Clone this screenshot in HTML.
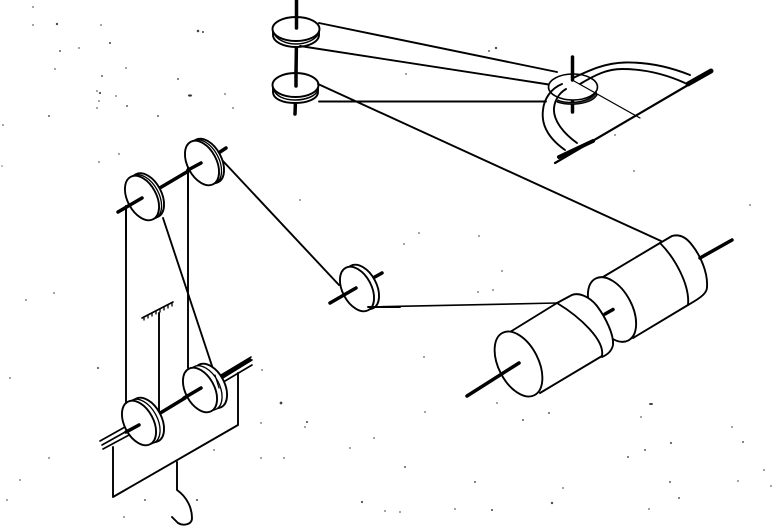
<!DOCTYPE html>
<html><head><meta charset="utf-8"><style>
html,body{margin:0;padding:0;background:#fff;width:779px;height:527px;overflow:hidden}
svg{display:block}
</style></head><body>
<svg width="779" height="527" viewBox="0 0 779 527" xmlns="http://www.w3.org/2000/svg">
<g fill="#333" stroke="#555" stroke-width=".5">
<circle cx="33" cy="7" r=".6"/><circle cx="33" cy="25" r=".6"/><circle cx="57" cy="24" r="1"/><circle cx="101" cy="25" r=".6"/><circle cx="110" cy="43" r=".8"/><circle cx="60" cy="51" r=".7"/><circle cx="79" cy="48" r=".6"/><circle cx="55" cy="69" r=".6"/><circle cx="102" cy="76" r=".7"/><circle cx="126" cy="68" r=".6"/><circle cx="178" cy="79" r=".7"/><circle cx="97" cy="91" r=".6"/><circle cx="100" cy="93" r=".9"/><circle cx="116" cy="96" r=".6"/><circle cx="99" cy="101" r=".6"/><circle cx="127" cy="106" r=".7"/><circle cx="97" cy="108" r=".6"/><circle cx="49" cy="116" r=".7"/><circle cx="158" cy="116" r=".7"/><circle cx="233" cy="108" r=".6"/><circle cx="3" cy="125" r=".6"/><circle cx="2" cy="166" r=".5"/><circle cx="99" cy="162" r=".6"/><circle cx="119" cy="154" r=".6"/><circle cx="198" cy="31" r="1.1"/><circle cx="203" cy="32" r=".8"/><ellipse cx="190" cy="95.500" rx="2" ry="1"/>
<circle cx="98" cy="368" r=".8"/><circle cx="281" cy="403" r="1.200"/><circle cx="261" cy="423" r=".6"/><circle cx="307" cy="422" r=".8"/><circle cx="305" cy="427" r=".6"/><circle cx="374" cy="438" r=".6"/><circle cx="350" cy="448" r=".6"/><circle cx="261" cy="458" r=".6"/><circle cx="284" cy="458" r=".6"/><circle cx="405" cy="467" r=".7"/><circle cx="362" cy="502" r=".9"/><circle cx="385" cy="511" r=".6"/><circle cx="400" cy="512" r=".6"/><circle cx="455" cy="509" r=".6"/><circle cx="492" cy="510" r=".8"/><circle cx="552" cy="503" r="1"/><circle cx="475" cy="482" r=".7"/><circle cx="425" cy="412" r=".6"/><circle cx="424" cy="357" r=".6"/><circle cx="497" cy="403" r=".6"/><circle cx="523" cy="420" r=".7"/><circle cx="549" cy="413" r=".7"/><circle cx="563" cy="488" r=".6"/><ellipse cx="651" cy="404" rx="2" ry=".8"/><circle cx="641" cy="417" r=".6"/><circle cx="645" cy="450" r=".7"/><circle cx="628" cy="457" r=".7"/><circle cx="671" cy="443" r=".8"/><circle cx="670" cy="482" r=".7"/><circle cx="679" cy="498" r=".7"/><circle cx="649" cy="509" r=".6"/><circle cx="732" cy="427" r=".6"/><circle cx="743" cy="442" r=".7"/><circle cx="738" cy="481" r=".6"/><circle cx="771" cy="486" r=".6"/>
<circle cx="419" cy="233" r=".6"/><circle cx="404" cy="244" r=".6"/><circle cx="479" cy="236" r=".6"/><circle cx="493" cy="290" r=".6"/><circle cx="502" cy="271" r=".6"/><circle cx="478" cy="292" r=".6"/><circle cx="652" cy="259" r=".6"/><circle cx="673" cy="295" r=".6"/><circle cx="654" cy="310" r=".6"/><circle cx="496" cy="48" r="1"/><circle cx="489" cy="51" r=".7"/><circle cx="406" cy="74" r=".6"/><circle cx="634" cy="171" r=".6"/><circle cx="615" cy="135" r=".6"/><circle cx="225" cy="94" r=".6"/><circle cx="10" cy="378" r=".6"/><circle cx="26" cy="300" r=".6"/><circle cx="54" cy="293" r=".6"/><circle cx="7" cy="500" r=".6"/><circle cx="20" cy="480" r=".6"/><circle cx="49" cy="458" r=".6"/><circle cx="145" cy="500" r=".7"/><circle cx="197" cy="500" r=".8"/><circle cx="124" cy="517" r=".6"/><circle cx="214" cy="450" r=".6"/><circle cx="262" cy="370" r=".6"/><circle cx="300" cy="200" r=".6"/><circle cx="750" cy="205" r=".6"/><circle cx="764" cy="470" r=".6"/>
</g>

<g fill="none" stroke="#000" stroke-width="1.900" stroke-linecap="round" stroke-linejoin="round">
<!-- top pulley 1 -->
<line x1="296.500" y1="40" x2="296" y2="74" stroke-width="3.500"/>
<path d="M273 29 v6 c0 7 11 12 23 12 s23-5 23-12 v-6" fill="#fff"/>
<path d="M274 33 c2 6 11 11 22 11 s20-5 22-10" stroke-width="1.500"/>
<ellipse cx="296" cy="29" rx="23.500" ry="12" fill="#fff"/>
<line x1="296.500" y1="0" x2="296.500" y2="28" stroke-width="3.500"/>
<!-- top pulley 2 -->
<line x1="295.500" y1="100" x2="295" y2="114" stroke-width="3.500"/>
<path d="M273 85 v7 c0 7 10 11 22 11 s23-4 23-11 v-7" fill="#fff"/>
<path d="M274 90 c2 6 10 10 21 10 s21-4 23-10" stroke-width="1.500"/>
<ellipse cx="295.500" cy="85" rx="23" ry="12" fill="#fff"/>
<line x1="296" y1="72" x2="296" y2="86" stroke-width="3.500"/>

<!-- belts top -->
<line x1="319" y1="23" x2="557" y2="72"/>
<line x1="300" y1="46" x2="552" y2="85"/>
<line x1="318" y1="84" x2="661" y2="241"/>
<line x1="319" y1="101.500" x2="546" y2="101.500"/>

<!-- horizontal pulley on right -->
<line x1="572.500" y1="100" x2="572.500" y2="112" stroke-width="3.500"/>
<path d="M558 100 c8 4 30 4 38 -8 l1 3 c-6 10 -28 11 -40 7z" fill="#333" stroke-width="1.200"/>
<ellipse cx="573" cy="87" rx="24.500" ry="13" fill="#fff" stroke-width="1.600"/>
<line x1="572.500" y1="57" x2="572.500" y2="80" stroke-width="3.500"/>
<line x1="574" y1="81" x2="640" y2="118" stroke-width="1.200"/>
<!-- curved band -->
<path d="M565 150 C548 138 541 125 543 110 C544 98 552 88 562 84"/>
<path d="M577 143 C563 133 553 120 554 108 C555 98 561 92 566 89"/>
<path d="M573 78 C590 70 605 63 625 62.500 C648 62 670 67 690 75"/>
<path d="M580 84 C595 75 607 69 622 69 C645 69 665 74 685 83"/>
<!-- axis -->
<line x1="555" y1="163" x2="712" y2="71" stroke-width="2.200"/>
<line x1="559" y1="157" x2="593" y2="141" stroke-width="4"/>
<line x1="688" y1="84" x2="711" y2="71" stroke-width="5"/>

<!-- drum -->
<path d="M660 243 L672 236 C679 234 686 237 692 245 C700 255 708 272 707 287 C707 292 704 296 688 305" fill="#fff"/>
<path d="M603 277 L660 243 C675 262 690 285 688 305 L633 338 C620 345 600 335 590 310 C582 290 590 278 603 277Z" fill="#fff" stroke="none"/>
<line x1="603" y1="277" x2="660" y2="243"/>
<line x1="633" y1="338" x2="688" y2="305"/>
<path d="M660 243 C675 258 690 285 688 305"/>
<ellipse cx="612" cy="309.500" rx="35" ry="20" transform="rotate(62 612 309.500)" fill="#fff"/>
<line x1="605" y1="314" x2="613" y2="309.500" stroke-width="3.500"/>
<path d="M557 303 L570 296 C578 291 590 297 597 306 C606 318 614 335 613 345 C612 350 609 354 602 357" fill="#fff"/>
<path d="M510 332 L557 303 C580 318 605 340 602 356 L540 393 C525 400 505 385 498 365 C492 345 498 334 510 332Z" fill="#fff" stroke="none"/>
<line x1="510" y1="332" x2="557" y2="303"/>
<line x1="540" y1="393" x2="602" y2="356"/>
<path d="M557 303 C580 317 605 340 602 356"/>
<ellipse cx="518.500" cy="364" rx="35" ry="20" transform="rotate(63 518.500 364)" fill="#fff"/>
<line x1="467" y1="396" x2="519" y2="363" stroke-width="3.500"/>
<line x1="700" y1="258" x2="732" y2="240" stroke-width="3.500"/>
<line x1="368" y1="307" x2="557" y2="303" stroke-width="1.600"/>

<!-- middle pulley -->
<line x1="373" y1="278" x2="382" y2="273" stroke-width="3.500"/>
<line x1="222" y1="160" x2="339" y2="285"/>
<ellipse cx="362" cy="287" rx="24" ry="14.500" transform="rotate(62 362 287)" fill="#fff"/>
<ellipse cx="357" cy="289" rx="24" ry="14.500" transform="rotate(62 357 289)" fill="#fff"/>
<line x1="330" y1="303" x2="356" y2="288" stroke-width="3.500"/>
<line x1="368" y1="307" x2="400" y2="307"/>

<!-- hanging ropes -->
<line x1="126" y1="206" x2="126" y2="405"/>
<line x1="188" y1="168" x2="188" y2="368"/>
<line x1="163" y1="218" x2="215" y2="375"/>
<line x1="159" y1="313" x2="159" y2="413"/>
<!-- ceiling -->
<line x1="142" y1="318" x2="173" y2="302" stroke-width="1.600"/>
<path d="M144 317v3M148 315v3M152 313v3M156 311v3M160 309v3M164 307v3M168 305v3M172 303v3" stroke-width="1.300"/>

<!-- frame & hook -->
<path d="M113 447 V497 L238 425 V373"/>
<path d="M177 462 V490 C187 497 192 508 192 518 C192 525 183 526 178 523 L172 517"/>

<!-- top left pulleys -->
<line x1="158" y1="189" x2="202" y2="163" stroke-width="3.500"/>
<ellipse cx="207" cy="161" rx="24" ry="14.500" transform="rotate(62 207 161)" fill="#fff"/>
<ellipse cx="204.500" cy="162" rx="24" ry="14.500" transform="rotate(62 204.500 162)" fill="#fff" stroke-width="1.300"/>
<ellipse cx="202" cy="163" rx="24" ry="14.500" transform="rotate(62 202 163)" fill="#fff"/>
<line x1="188" y1="170" x2="201" y2="163" stroke-width="3.500"/>
<line x1="220" y1="152" x2="226" y2="148" stroke-width="3.500"/>
<ellipse cx="147" cy="195.500" rx="24" ry="14.500" transform="rotate(62 147 195.500)" fill="#fff"/>
<ellipse cx="144.500" cy="197" rx="24" ry="14.500" transform="rotate(62 144.500 197)" fill="#fff" stroke-width="1.300"/>
<ellipse cx="142" cy="198" rx="24" ry="14.500" transform="rotate(62 142 198)" fill="#fff"/>
<line x1="118" y1="212" x2="142" y2="198" stroke-width="3.500"/>
<line x1="126" y1="206" x2="126" y2="240"/>
<line x1="188" y1="168" x2="188" y2="200"/>

<!-- bottom pulleys -->
<path d="M100 441 L125 427 M102 445 L127 431 M103 449 L129 435" stroke-width="1.600"/>
<path d="M216 378 L251 357 M218 381 L252 360 M225 381 L252 365" stroke-width="1.600"/>
<line x1="218" y1="378" x2="250" y2="360" stroke-width="3.500"/>
<line x1="157" y1="415" x2="185" y2="398" stroke-width="3.500"/>
<ellipse cx="210" cy="386" rx="24" ry="14.500" transform="rotate(62 210 386)" fill="#fff"/>
<ellipse cx="205" cy="388" rx="24" ry="14.500" transform="rotate(62 205 388)" fill="#fff" stroke-width="1.300"/>
<ellipse cx="200" cy="390" rx="24" ry="14.500" transform="rotate(62 200 390)" fill="#fff"/>
<line x1="184" y1="398" x2="201" y2="388" stroke-width="3.500"/>
<line x1="215" y1="375" x2="219" y2="388" stroke-width="1.200"/>
<ellipse cx="147" cy="420" rx="24" ry="14.500" transform="rotate(62 147 420)" fill="#fff"/>
<ellipse cx="143" cy="421.500" rx="24" ry="14.500" transform="rotate(62 143 421.500)" fill="#fff" stroke-width="1.300"/>
<ellipse cx="139" cy="423" rx="24" ry="14.500" transform="rotate(62 139 423)" fill="#fff"/>
<line x1="126" y1="432" x2="139" y2="425" stroke-width="3.500"/>
</g>
</svg>
</body></html>
